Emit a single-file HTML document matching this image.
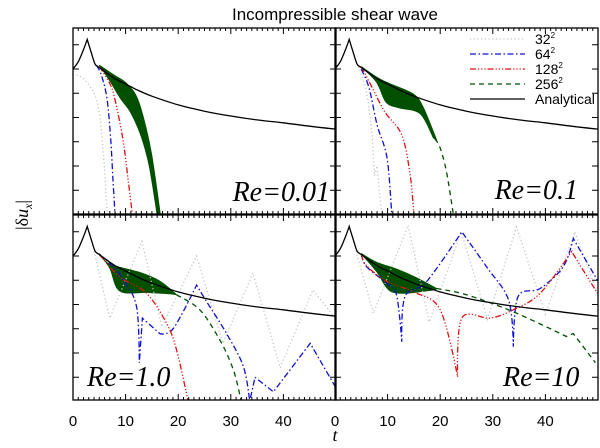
<!DOCTYPE html>
<html><head><meta charset="utf-8"><style>
body{margin:0;background:#fff;}
svg{display:block;font-family:"Liberation Sans",sans-serif;}
</style></head><body>
<svg id="chart" width="600" height="448" viewBox="0 0 600 448" xmlns="http://www.w3.org/2000/svg">
<text x="335" y="20" font-size="17" text-anchor="middle">Incompressible shear wave</text>
<text transform="translate(28,215) rotate(-90)" font-size="18" text-anchor="middle" font-family="Liberation Serif,serif">|δ<tspan font-style="italic">u</tspan><tspan font-style="italic" font-size="12" dy="4">x</tspan><tspan dy="-4">|</tspan></text>
<text x="335" y="441" font-size="18" font-style="italic" text-anchor="middle" font-family="Liberation Serif,serif">t</text>
<g id="layer"></g>
</svg>
<script>
// ---- data (t values, log10 |du_x|) ----
const anaT=[0,1,2,2.7,3.5,4.2,5,6,8,10,12,15,20,25,30,35,40,45,50];
const anaV=[0,0.15,0.4,0.61,0.33,0.1,0.03,-0.05,-0.2,-0.31,-0.42,-0.56,-0.74,-0.87,-0.97,-1.05,-1.11,-1.18,-1.24];

// Re=0.01
const p0_32T=[0,2,4,5,5.5,6,6.5];   const p0_32V=[-0.1,-0.2,-0.5,-0.9,-1.4,-2.1,-3];
const p0_64T=[4.5,5.5,6.5,7.2,7.6,8];  const p0_64V=[0.08,-0.16,-0.64,-1.5,-2.3,-3];
const p0_128T=[5,7,8,9.5,10.5,11.3];   const p0_128V=[0.05,-0.3,-0.64,-1.46,-2.3,-3];
const p0_256UT=[5,8,10,12,13.5,15,16.6]; const p0_256UV=[0.08,-0.14,-0.28,-0.55,-1.05,-1.8,-3];
const p0_256LT=[5,7,9,11,13,14.5,16];  const p0_256LV=[0.08,-0.24,-0.6,-0.9,-1.4,-2.0,-3];
const p0_256DT=[]; const p0_256DV=[];

// Re=0.1
const p1_32T=[4.5,6,7,7.5,8,8.5,9];  const p1_32V=[0.05,-0.5,-1.3,-2.2,-2.0,-2.6,-3];
const p1_64T=[5,6.5,8,9.9,10.8];  const p1_64V=[0,-0.4,-1.15,-1.84,-3];
const p1_128T=[5,7,9.5,12.7,14.3,15];  const p1_128V=[0.05,-0.37,-0.89,-1.36,-2.19,-3];
const p1_256UT=[5,7.9,10.3,14.9,16.8,19.3]; const p1_256UV=[0.05,-0.17,-0.3,-0.52,-0.8,-1.46];
const p1_256LT=[5,7.9,9.7,12.2,16.2,18.7];  const p1_256LV=[0.05,-0.27,-0.68,-0.8,-0.92,-1.42];
const p1_256DT=[19,20,21.2,22.5]; const p1_256DV=[-1.44,-1.63,-2.12,-3];

// Re=1.0
const p2_32T=[4,7,13.1,16.9,23.5,28.5,34.2,39.4,45.6,50]; const p2_32V=[0.1,-1.28,0.3,-1.46,0,-1.8,-0.35,-2.3,-0.7,-1.3];
const p2_64T=[5,7,9.6,12.1,12.6,13.2,16.5,19.1,23.5,25.4,29.2,32.4,33.6,34.6,38.1,45.1,50];
const p2_64V=[0.03,-0.15,-0.5,-1.05,-2.2,-1.28,-1.6,-1.49,-0.6,-0.94,-1.6,-2.28,-3,-2.5,-2.8,-1.8,-2.72];
const p2_128T=[5,8.9,14,17.8,19.7,21.9]; const p2_128V=[0.03,-0.43,-0.77,-1.39,-1.94,-3];
const p2_256UT=[5,7,12.7,16.5,19.7]; const p2_256UV=[0.05,-0.17,-0.34,-0.52,-0.8];
const p2_256LT=[5,7,8.9,14,18.4,19.7]; const p2_256LV=[0.05,-0.25,-0.72,-0.75,-0.78,-0.8];
const p2_256DT=[19.7,24.1,27.9,30.5,32]; const p2_256DV=[-0.8,-1.11,-1.73,-2.35,-3];

// Re=10
const p3_32T=[4,7.3,13.9,17.9,24,29,34.5,40,45.6,50]; const p3_32V=[0.1,-1.18,0.63,-1.36,0.5,-1.3,0.6,-1.2,0.5,-0.8];
const p3_64T=[5,6,9.8,11.7,12.7,13.3,17.4,24.1,28.8,33,33.9,34.8,39,43.4,45.3,49.9];
const p3_64V=[0.03,-0.22,-0.56,-0.8,-1.77,-0.84,-0.53,0.5,-0.22,-0.91,-1.87,-0.84,-0.67,-0.22,0.36,-0.5];
const p3_128T=[5,6,9.8,14.9,20,23.3,24.1,29.5,33.9,39,45,49.9];
const p3_128V=[0.03,-0.2,-0.52,-0.74,-1.11,-2.49,-1.28,-1.28,-1.11,-0.77,0.09,-0.77];
const p3_256UT=[5,7.9,11.7,15.5,19.3]; const p3_256UV=[0.05,-0.13,-0.27,-0.45,-0.67];
const p3_256LT=[5,7.9,10.5,14.3,18.7,19.3]; const p3_256LV=[0.05,-0.32,-0.72,-0.76,-0.7,-0.67];
const p3_256DT=[19.3,25,33.9,44,45.3,49.5]; const p3_256DV=[-0.67,-0.8,-1.15,-1.66,-1.6,-2.2];

const xTicks=[0,10,20,30,40];
const reLabels=["Re=0.01","Re=0.1","Re=1.0","Re=10"];
const legendLabels=["32","64","128","256","Analytical"];

// ---- layout ----
const NS="http://www.w3.org/2000/svg";
const layer=document.getElementById('layer');
const panels=[
 {x0:73,top:28,bot:214,y0:69},{x0:335,top:28,bot:214,y0:69},
 {x0:73,top:215,bot:400,y0:256},{x0:335,top:215,bot:400,y0:256}];
const W=263, TMAX=50, DEC=48.5;
function xs(p,t){return p.x0+t/TMAX*W;}
function ys(p,v){return p.y0-v*DEC;}
function mk(tag,attrs,parent){const e=document.createElementNS(NS,tag);for(const k in attrs)e.setAttribute(k,attrs[k]);(parent||layer).appendChild(e);return e;}
function P(p,T,V){return T.map((t,i)=>[xs(p,t),ys(p,V[i])]);}
// smooth path through points (Catmull-Rom), keeping sharp corners at local extrema
function smooth(pp,move){
 let d=(move?'M':'L')+pp[0][0].toFixed(1)+','+pp[0][1].toFixed(1);
 for(let i=0;i<pp.length-1;i++){
  const p0=pp[Math.max(0,i-1)],p1=pp[i],p2=pp[i+1],p3=pp[Math.min(pp.length-1,i+2)];
  const ext1=(i>0)&&((p1[1]-p0[1])*(p2[1]-p1[1])<0);
  const ext2=(i+2<pp.length)&&((p2[1]-p1[1])*(p3[1]-p2[1])<0);
  const c1=ext1?p1:[p1[0]+(p2[0]-p0[0])/6,p1[1]+(p2[1]-p0[1])/6];
  const c2=ext2?p2:[p2[0]-(p3[0]-p1[0])/6,p2[1]-(p3[1]-p1[1])/6];
  d+='C'+c1[0].toFixed(1)+','+c1[1].toFixed(1)+' '+c2[0].toFixed(1)+','+c2[1].toFixed(1)+' '+p2[0].toFixed(1)+','+p2[1].toFixed(1);
 }
 return d;
}

const styles={
 s32:{stroke:'#c4c4c4','stroke-dasharray':'1.2,2.5'},
 s64:{stroke:'#1010d0','stroke-dasharray':'6,2.5,1.5,2.5'},
 s128:{stroke:'#e01010','stroke-dasharray':'6,2,1.2,2,1.2,2,1.2,2'},
 s256:{stroke:'#005000','stroke-dasharray':'5,4'},
 ana:{stroke:'#000'}};

const data=[
 [p0_32T,p0_32V,p0_64T,p0_64V,p0_128T,p0_128V,p0_256UT,p0_256UV,p0_256LT,p0_256LV,p0_256DT,p0_256DV],
 [p1_32T,p1_32V,p1_64T,p1_64V,p1_128T,p1_128V,p1_256UT,p1_256UV,p1_256LT,p1_256LV,p1_256DT,p1_256DV],
 [p2_32T,p2_32V,p2_64T,p2_64V,p2_128T,p2_128V,p2_256UT,p2_256UV,p2_256LT,p2_256LV,p2_256DT,p2_256DV],
 [p3_32T,p3_32V,p3_64T,p3_64V,p3_128T,p3_128V,p3_256UT,p3_256UV,p3_256LT,p3_256LV,p3_256DT,p3_256DV]];

panels.forEach((p,i)=>{
 const g=mk('g',{});
 
 
 const cp=mk('clipPath',{id:'clip'+i},g);
 mk('rect',{x:p.x0,y:p.top,width:W,height:p.bot-p.top},cp);
 const pg=mk('g',{'clip-path':'url(#clip'+i+')'},g);
 const d=data[i];
 // 256 band
 const up=P(p,d[6],d[7]), lo=P(p,d[8],d[9]).reverse();
 const band=mk('path',{d:smooth(up,true)+smooth(lo,false)+'Z',fill:'#005000',stroke:'#005000','stroke-width':1},pg);
 
 
 const seriesDefs=[['series-32',d[0],d[1],styles.s32],['series-64',d[2],d[3],styles.s64],['series-128',d[4],d[5],styles.s128]];
 if(d[10].length) seriesDefs.push(['series-256',d[10],d[11],styles.s256]);
 seriesDefs.push(['series-analytical',anaT,anaV,styles.ana]);
 seriesDefs.forEach(s=>{
  const l=mk('path',Object.assign({d:smooth(P(p,s[1],s[2]),true),fill:'none','stroke-width':1.3},s[3]),pg);
  
  
 });
 // frame
 const fr=mk('rect',{x:p.x0,y:p.top,width:W,height:p.bot-p.top,fill:'none',stroke:'#000','stroke-width':1.3},g);
 
 
 // x ticks
 for(let t=0;t<=TMAX;t++){
  const x=xs(p,t), len=(t%10===0)?6:3;
  mk('line',{x1:x,x2:x,y1:p.bot,y2:p.bot-len,stroke:'#000','stroke-width':1},g);
  mk('line',{x1:x,x2:x,y1:p.top,y2:p.top+len,stroke:'#000','stroke-width':1},g);
 }
 // y ticks every half decade
 for(let v=-3;v<=1;v+=0.5){
  const y=ys(p,v); if(y<=p.top+1||y>=p.bot-1) continue;
  mk('line',{x1:p.x0,x2:p.x0+6,y1:y,y2:y,stroke:'#000','stroke-width':1},g);
  mk('line',{x1:p.x0+W,x2:p.x0+W-6,y1:y,y2:y,stroke:'#000','stroke-width':1},g);
 }
 // Re label
 const lp=[[330,201,'end'],[578,199,'end'],[87,386,'start'],[503,386,'start']][i];
 const rl=mk('text',{x:lp[0],y:lp[1],'text-anchor':lp[2],'font-size':28,'font-style':'italic','font-family':'Liberation Serif,serif'},g);
 rl.textContent=reLabels[i];
 
 
 // x tick labels bottom row
 if(i>=2){
  xTicks.forEach(t=>{
   const tl=mk('text',{x:xs(p,t),y:426,'text-anchor':'middle','font-size':15},g);
   tl.textContent=t;
   
   
  });
 }
});

// legend
const lg=mk('g',{});


const legStyles=[styles.s32,styles.s64,styles.s128,styles.s256,styles.ana];
const legY=[39,54,69,84,99];
legendLabels.forEach((lab,k)=>{
 const e=mk('g',{},lg);
 
 
 mk('line',Object.assign({x1:470,x2:525,y1:legY[k],y2:legY[k],'stroke-width':1.3},legStyles[k]),e);
 const t=mk('text',{x:535,y:legY[k]+5,'font-size':14},e);
 if(k<4){t.innerHTML=lab+'<tspan font-size="8" dy="-6">2</tspan>';}else t.textContent=lab;
});
</script>
</body></html>
